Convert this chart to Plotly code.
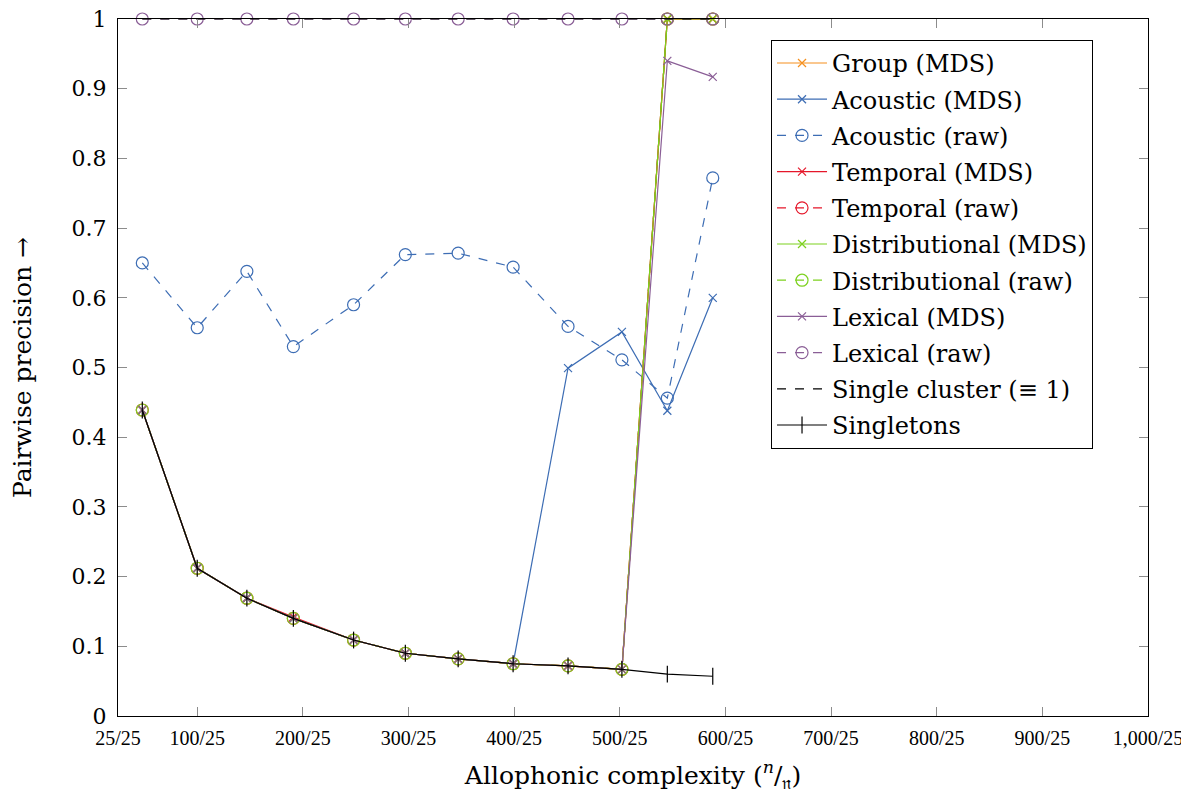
import plotly.graph_objects as go

# ---- data ----
x_vals = [48, 100, 147, 191, 248, 297, 347, 399, 451, 502, 545, 588]

group_mds = [0.439, 0.212, 0.169, 0.140, 0.109, 0.090, 0.082, 0.075, 0.072, 0.067, 1.0, 1.0]
acoustic_mds = [0.439, 0.212, 0.169, 0.140, 0.109, 0.090, 0.082, 0.075, 0.499, 0.551, 0.438, 0.600]
acoustic_raw = [0.650, 0.557, 0.638, 0.530, 0.590, 0.662, 0.664, 0.644, 0.559, 0.511, 0.456, 0.772]
temporal_mds = [0.439, 0.212, 0.169, 0.142, 0.109, 0.090, 0.082, 0.075, 0.072, 0.067, 1.0, 1.0]
temporal_raw = [0.439, 0.212, 0.169, 0.140, 0.109, 0.090, 0.082, 0.075, 0.072, 0.067, 1.0, 1.0]
distributional_mds = [0.439, 0.212, 0.169, 0.140, 0.109, 0.090, 0.082, 0.075, 0.072, 0.067, 1.0, 1.0]
distributional_raw = [0.439, 0.212, 0.169, 0.140, 0.109, 0.090, 0.082, 0.075, 0.072, 0.067, 1.0, 1.0]
lexical_mds = [0.439, 0.212, 0.169, 0.140, 0.109, 0.090, 0.082, 0.075, 0.072, 0.067, 0.940, 0.917]
lexical_raw = [1.0, 1.0, 1.0, 1.0, 1.0, 1.0, 1.0, 1.0, 1.0, 1.0, 1.0, 1.0]
single_cluster = [1.0, 1.0, 1.0, 1.0, 1.0, 1.0, 1.0, 1.0, 1.0, 1.0, 1.0, 1.0]
singletons = [0.439, 0.212, 0.169, 0.140, 0.109, 0.090, 0.082, 0.075, 0.072, 0.067, 0.060, 0.057]

x_tickvals = [25, 100, 200, 300, 400, 500, 600, 700, 800, 900, 1000]
x_ticktext = ["25/25", "100/25", "200/25", "300/25", "400/25", "500/25",
              "600/25", "700/25", "800/25", "900/25", "1,000/25"]
y_tickvals = [0, 0.1, 0.2, 0.3, 0.4, 0.5, 0.6, 0.7, 0.8, 0.9, 1]
y_ticktext = ["0", "0.1", "0.2", "0.3", "0.4", "0.5", "0.6", "0.7", "0.8", "0.9", "1"]

ORANGE = "#F5901E"
BLUE = "#3D6DB4"
RED = "#E5172A"
GREEN = "#7DD11F"
PURPLE = "#8A5E96"
BLACK = "#000000"

FONT = "DejaVu Serif"
TICKFONT_X = "Liberation Serif"

series = [
    ("Group (MDS)", group_mds, ORANGE, "solid", "x-thin-open", 8),
    ("Acoustic (MDS)", acoustic_mds, BLUE, "solid", "x-thin-open", 8),
    ("Acoustic (raw)", acoustic_raw, BLUE, "dash", "circle-open", 12),
    ("Temporal (MDS)", temporal_mds, RED, "solid", "x-thin-open", 8),
    ("Temporal (raw)", temporal_raw, RED, "dash", "circle-open", 12),
    ("Distributional (MDS)", distributional_mds, GREEN, "solid", "x-thin-open", 8),
    ("Distributional (raw)", distributional_raw, GREEN, "dash", "circle-open", 12),
    ("Lexical (MDS)", lexical_mds, PURPLE, "solid", "x-thin-open", 8),
    ("Lexical (raw)", lexical_raw, PURPLE, "dash", "circle-open", 12),
]

fig = go.Figure()
for i, (name, ys, color, dash, sym, size) in enumerate(series):
    fig.add_trace(go.Scatter(
        x=x_vals, y=ys, name=name, mode="lines+markers", legendgroup=f"g{i}",
        line=dict(color=color, width=1.2, dash=dash),
        marker=dict(symbol=sym, size=size, color=color, line=dict(color=color, width=1.2)),
        cliponaxis=False,
    ))

fig.add_trace(go.Scatter(
    x=x_vals, y=single_cluster, name="Single cluster (≡ 1)", mode="lines", legendgroup="g9",
    line=dict(color=BLACK, width=1.2, dash="dash"), cliponaxis=False,
))
fig.add_trace(go.Scatter(
    x=x_vals, y=singletons, name="Singletons", mode="lines+markers", legendgroup="g10",
    line=dict(color=BLACK, width=1.2),
    marker=dict(symbol="line-ns-open", size=12, color=BLACK, line=dict(color=BLACK, width=1.2)),
    cliponaxis=False,
))

axis_common = dict(
    showgrid=False, zeroline=False, showline=True, linecolor="black", linewidth=1,
    mirror="allticks", ticks="inside", ticklen=9, tickcolor="#8c8c8c", tickwidth=1,
    automargin=False, ticklabeloverflow="allow",
)

# page body has an 8px margin, so the figure is sized to sit inside the 1189x793 window
fig.update_layout(
    width=1181, height=785,
    paper_bgcolor="white", plot_bgcolor="white",
    margin=dict(l=110, r=41, t=11, b=77),
    font=dict(family=FONT, color="black", size=22),
    xaxis=dict(range=[25, 1000], tickvals=x_tickvals, ticktext=x_ticktext,
               tickfont=dict(family=TICKFONT_X, size=20), ticklabelstandoff=4,
               title=dict(text="Allophonic complexity (<sup><i>n</i></sup>/<sub>𝔫</sub>)",
                          font=dict(size=25), standoff=20),
               **axis_common),
    yaxis=dict(range=[0, 1], tickvals=y_tickvals, ticktext=y_ticktext,
               tickfont=dict(size=22), ticklabelstandoff=6,
               title=dict(text="Pairwise precision →", font=dict(size=25), standoff=40),
               **axis_common),
    legend=dict(x=0.634, y=0.97, xanchor="left", yanchor="top",
                bgcolor="white", bordercolor="black", borderwidth=1,
                font=dict(family=FONT, size=24), tracegroupgap=2,
                itemwidth=50),
    showlegend=True,
)

fig.write_html("out.html")
